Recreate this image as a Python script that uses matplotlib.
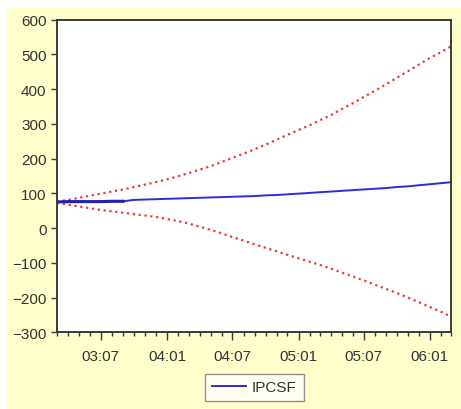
import pandas as pd
import matplotlib
matplotlib.use('Agg')
import matplotlib.pyplot as plt
import matplotlib.dates as mdates
from matplotlib.patches import Rectangle

months = pd.date_range('2003-03-01', '2006-03-01', freq='MS')

ipcsf = [75, 76, 76, 76, 76, 77, 77, 81, 82, 83,
         84, 85, 86, 87, 88, 89, 90, 91, 92, 94, 95, 97,
         99, 101, 103, 105, 107, 109, 111, 113, 115, 118, 120, 123,
         126, 129, 132]

upper = [76, 81, 87, 93, 99, 105, 111, 118, 125, 132,
         140, 149, 158, 168, 178, 190, 202, 214, 227, 240, 254, 268,
         282, 296, 310, 325, 342, 359, 377, 395, 413, 432, 451, 470,
         489, 506, 523]

lower = [72, 67, 62, 57, 52, 48, 44, 40, 36, 32,
         26, 20, 13, 4, -5, -15, -26, -36, -47, -57, -67, -77,
         -87, -97, -106, -117, -128, -139, -151, -163, -175, -187, -200, -213,
         -227, -241, -255]

yticks = [600, 500, 400, 300, 200, 100, 0, -100, -200, -300]

plt.rcParams['font.family'] = ['Liberation Sans', 'DejaVu Sans']

fig = plt.figure(figsize=(4.61, 4.10), dpi=100, facecolor='white')
# pale yellow panel behind the graph (white strip at top and left)
bg = Rectangle((7 / 461, 0), 1, 1 - 9 / 410, transform=fig.transFigure,
               facecolor='#FFFFCC', edgecolor='none', zorder=-10)
fig.patches.append(bg)

ax = fig.add_axes([57 / 461, 1 - 333.3 / 410, (451 - 57) / 461, (333.3 - 20.5) / 410])
ax.set_facecolor('white')

ax.plot(months, upper, color='#E83A3A', linestyle=':', linewidth=1.6)
ax.plot(months, lower, color='#E83A3A', linestyle=':', linewidth=1.6)
ax.plot(months, ipcsf, color='#2B2BE0', linewidth=1.4, label='IPCSF')
# actual data at the start drawn a bit darker / thicker
ax.plot(months[:7], ipcsf[:7], color='#2020B0', linewidth=2.2)

ax.set_xlim(months[0], months[-1])
ax.set_ylim(-300, 600)
ax.set_yticks(yticks)

ax.xaxis.set_major_locator(mdates.MonthLocator(bymonth=[1, 7]))
ax.xaxis.set_major_formatter(mdates.DateFormatter('%y:%m'))
ax.xaxis.set_minor_locator(mdates.MonthLocator())

for s in ax.spines.values():
    s.set_color('#3A3A3A')
    s.set_linewidth(1.4)

ax.tick_params(axis='both', which='major', labelsize=11, colors='#3A3A3A',
               labelcolor='#333333', length=4, width=1)
ax.tick_params(axis='x', which='major', length=6, pad=6)
ax.tick_params(axis='x', which='minor', length=3, width=1, colors='#3A3A3A')

leg = fig.legend(loc='lower center', bbox_to_anchor=(254.5 / 461, 0.0), ncol=1,
                 fontsize=11, frameon=True, fancybox=False, handlelength=2.2,
                 borderpad=0.45, handletextpad=0.4, labelcolor='#333333')
leg.get_frame().set_edgecolor('#777777')
leg.get_frame().set_linewidth(1.0)

fig.savefig('out.png', dpi=100, facecolor=fig.get_facecolor())
